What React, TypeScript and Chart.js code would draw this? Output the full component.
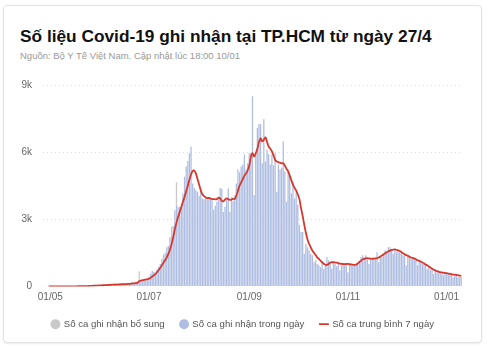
import { useEffect, useRef } from 'react';
import { Chart, registerables } from 'chart.js';
Chart.register(...registerables);

const START_DATE = '2021-04-27';
const DAY_COUNT = 259;
const tickLabels = ['01/05', '01/07', '01/09', '01/11', '01/01'];
const yTicks = [0, 3000, 6000, 9000];

const dailyCases = [
  2, 0, 5, 1, 0, 3, 1, 0, 4, 2,
  6, 3, 1, 5, 2, 8, 4, 3, 6, 5,
  10, 7, 12, 9, 15, 11, 20, 26, 35, 42,
  30, 48, 55, 38, 62, 45, 70, 58, 80, 66,
  95, 72, 88, 105, 90, 78, 110, 96, 120, 102,
  130, 115, 140, 125, 160, 180, 150, 200, 220, 180,
  240, 260, 280, 300, 330, 450, 560, 700, 650, 600,
  760, 880, 1000, 1230, 1400, 1500, 1750, 1800, 2200, 2300,
  2700, 3400, 3650, 3550, 3555, 3500, 4150, 4900, 5355, 5600,
  5950, 6255, 4600, 4400, 4300, 4230, 4050, 4380, 3930, 3900,
  3950, 4000, 3880, 3950, 3900, 3420, 3600, 3780, 3900, 4400,
  4350, 3330, 3555, 3900, 4380, 3330, 4000, 3800, 4080, 4600,
  5220, 5100, 5355, 5445, 5895, 5220, 5500, 5950, 5950, 8500,
  4080, 5950, 7080, 7260, 7245, 5500, 7470, 5580, 6120, 5900,
  5445, 5895, 5400, 5950, 4230, 5445, 5220, 5300, 6480, 5130,
  3780, 5130, 4995, 4150, 4680, 3930, 4230, 3645, 2745, 2430,
  2430, 1455, 1905, 1755, 1620, 1455, 1395, 1080, 1170, 1005,
  945, 855, 1080, 780, 1005, 1305, 1170, 1080, 780, 1050,
  1005, 900, 1005, 720, 950, 1005, 980, 1005, 630, 1000,
  1010, 950, 915, 980, 1005, 1150, 1305, 1395, 1305, 1395,
  1200, 1005, 1260, 1230, 1305, 1250, 1530, 1080, 1395, 1300,
  1455, 1620, 1530, 1755, 1755, 1600, 1455, 1680, 1530, 1550,
  1530, 1485, 1395, 1395, 945, 1395, 1305, 1230, 1230, 1230,
  1170, 945, 1170, 1080, 1005, 1005, 945, 780, 855, 720,
  780, 555, 780, 630, 630, 630, 555, 495, 630, 555,
  555, 495, 555, 405, 495, 495, 405, 420, 430,
];

const supplementDates = ['25/06', '15/07', '18/07'];
const supplementValues = [500, 350, 1000];

const average7 = [
  null, null, null, 2, 2, 2, 2, 2, 2, 2,
  2, 3, 2, 3, 3, 4, 4, 4, 4, 5,
  5, 6, 7, 8, 9, 10, 12, 14, 18, 23,
  27, 31, 36, 39, 44, 46, 50, 52, 56, 60,
  65, 68, 76, 80, 84, 83, 91, 91, 96, 100,
  104, 106, 113, 116, 124, 133, 139, 150, 160, 240,
  255, 275, 290, 305, 320, 340, 380, 440, 490, 560,
  640, 730, 830, 940, 1060, 1170, 1300, 1450, 1650, 1900,
  2200, 2550, 2850, 3100, 3330, 3550, 3780, 4000, 4250, 4500,
  4770, 5000, 5150, 5180, 5050, 4800, 4550, 4300, 4120, 4030,
  3980, 3950, 3950, 3930, 3900, 3900, 3890, 3900, 3960, 3930,
  3820, 3800, 3880, 3930, 3900, 3870, 3880, 3920, 3900, 4050,
  4280, 4500, 4650, 4800, 4950, 5050, 5180, 5400, 5780, 5950,
  5800, 5950, 6150, 6450, 6620, 6480, 6550, 6660, 6450, 6250,
  6150, 6030, 5850, 5650, 5580, 5550, 5520, 5500, 5500, 5400,
  5250, 5150, 4950, 4750, 4550, 4400, 4280, 4120, 3900, 3500,
  3150, 2750, 2400, 2100, 1900, 1750, 1600, 1500, 1400, 1300,
  1230, 1150, 1080, 1010, 970, 960, 1000, 1070, 1080, 1080,
  1070, 1060, 1040, 1020, 1010, 1000, 1000, 1000, 1005, 990,
  980, 970, 960, 970, 1020, 1080, 1140, 1200, 1230, 1250,
  1260, 1250, 1240, 1230, 1240, 1250, 1260, 1290, 1330, 1380,
  1430, 1480, 1530, 1570, 1600, 1630, 1645, 1650, 1630, 1610,
  1580, 1540, 1480, 1440, 1400, 1370, 1330, 1290, 1270, 1250,
  1210, 1170, 1140, 1110, 1070, 1030, 980, 940, 890, 840,
  790, 745, 710, 680, 660, 640, 625, 610, 600, 590,
  575, 560, 545, 530, 525, 515, 500, 485, 475,
];

function buildDays(): string[] {
  const out: string[] = [];
  const d = new Date(START_DATE + 'T00:00:00Z');
  for (let i = 0; i < DAY_COUNT; i++) {
    const dd = String(d.getUTCDate()).padStart(2, '0');
    const mm = String(d.getUTCMonth() + 1).padStart(2, '0');
    out.push(dd + '/' + mm);
    d.setUTCDate(d.getUTCDate() + 1);
  }
  return out;
}

const FONT = '"Liberation Sans", Arial, Helvetica, sans-serif';

export default function App() {
  const ref = useRef<HTMLCanvasElement | null>(null);

  useEffect(() => {
    document.body.style.margin = '0';
    const days = buildDays();
    const supplement = days.map((d) => {
      const k = supplementDates.indexOf(d);
      return k >= 0 ? supplementValues[k] : 0;
    });
    const chart = new Chart(ref.current as HTMLCanvasElement, {
      type: 'bar',
      data: {
        labels: days,
        datasets: [
          {
            type: 'line',
            label: 'Số ca trung bình 7 ngày',
            data: average7,
            borderColor: '#d8382c',
            backgroundColor: '#d8382c',
            borderWidth: 1.8,
            pointRadius: 0,
            pointStyle: 'line',
            tension: 0.3,
            stack: 'avg',
            yAxisID: 'y',
            order: 0,
          } as any,
          {
            label: 'Số ca ghi nhận trong ngày',
            data: dailyCases,
            backgroundColor: '#aebde1',
            borderWidth: 0,
            barPercentage: 0.8,
            categoryPercentage: 1,
            stack: 'cases',
            yAxisID: 'y',
            order: 1,
          },
          {
            label: 'Số ca ghi nhận bổ sung',
            data: supplement,
            backgroundColor: '#c9c9c9',
            borderWidth: 0,
            barPercentage: 0.8,
            categoryPercentage: 1,
            stack: 'cases',
            yAxisID: 'y',
            order: 2,
          },
        ],
      },
      options: {
        animation: false,
        responsive: false,
        maintainAspectRatio: false,
        layout: { padding: { top: 2, right: 14, left: 10, bottom: 0 } },
        plugins: {
          tooltip: { enabled: false },
          legend: {
            position: 'bottom',
            labels: {
              usePointStyle: true,
              boxWidth: 7,
              boxHeight: 7,
              padding: 16,
              color: '#555',
              font: { family: FONT, size: 9.6 },
              sort: (a: any, b: any) => {
                const rank = (t: string) =>
                  t === 'Số ca ghi nhận bổ sung' ? 0 : t === 'Số ca ghi nhận trong ngày' ? 1 : 2;
                return rank(a.text) - rank(b.text);
              },
            },
          },
        },
        scales: {
          x: {
            stacked: true,
            grid: { display: false, drawTicks: false },
            border: { display: false },
            afterFit: (s: any) => {
              s.height = 17;
            },
            ticks: {
              autoSkip: false,
              maxRotation: 0,
              minRotation: 0,
              padding: 5,
              color: '#666',
              font: { family: FONT, size: 10 },
              callback: (_v: any, i: number) => (tickLabels.includes(days[i]) ? days[i] : null),
            },
          },
          y: {
            stacked: true,
            min: 0,
            max: 9000,
            afterFit: (s: any) => {
              s.width = 33;
            },
            afterBuildTicks: (s: any) => {
              s.ticks = yTicks.map((v) => ({ value: v }));
            },
            grid: {
              drawTicks: false,
              color: (c: any) => (c.tick && c.tick.value === 0 ? 'rgba(0,0,0,0)' : '#dcdcdc'),
              lineWidth: 1,
            },
            border: { display: false, dash: [1, 3] },
            ticks: {
              padding: 11,
              color: '#666',
              font: { family: FONT, size: 10 },
              callback: (v: any) => (Number(v) === 0 ? '0' : Number(v) / 1000 + 'k'),
            },
          },
          yR: {
            position: 'right',
            display: true,
            grid: { display: false, drawTicks: false },
            border: { display: false },
            ticks: { display: false },
            afterFit: (s: any) => {
              s.width = 14;
            },
          },
        },
      },
    });
    return () => chart.destroy();
  }, []);

  return (
    <div
      style={{
        position: 'relative',
        width: 490,
        height: 347,
        overflow: 'hidden',
        fontFamily: FONT,
        background: '#fff',
      }}
    >
      <div
        style={{
          position: 'absolute',
          left: 3,
          top: 5,
          width: 477,
          height: 336,
          border: '1px solid #e2e2e2',
          borderRadius: 4,
          boxShadow: '0 1px 2px rgba(0,0,0,0.08)',
        }}
      />
      <div
        style={{
          position: 'absolute',
          left: 20,
          top: 26,
          fontSize: 17.3,
          lineHeight: '20px',
          fontWeight: 'bold',
          color: '#111',
          whiteSpace: 'nowrap',
        }}
      >
        Số liệu Covid-19 ghi nhận tại TP.HCM từ ngày 27/4
      </div>
      <div
        style={{
          position: 'absolute',
          left: 20,
          top: 50,
          fontSize: 9.5,
          lineHeight: '12px',
          color: '#999',
          whiteSpace: 'nowrap',
        }}
      >
        Nguồn: Bộ Y Tế Việt Nam. Cập nhật lúc 18:00 10/01
      </div>
      <canvas
        ref={ref}
        width={490}
        height={271}
        style={{ position: 'absolute', left: 0, top: 68, width: 490, height: 271 }}
      />
    </div>
  );
}
